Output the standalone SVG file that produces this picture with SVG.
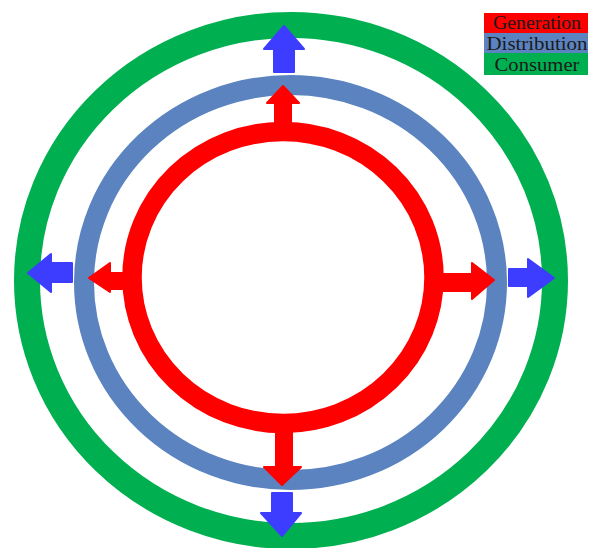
<svg xmlns="http://www.w3.org/2000/svg" width="590" height="548" viewBox="0 0 590 548">
<style>
.ring{fill:none}
.red{fill:#FF0000;stroke:#FF0000;stroke-width:2;stroke-linejoin:round}
.blu{fill:#3D3DFF;stroke:#3D3DFF;stroke-width:2;stroke-linejoin:round}
.lbl{font-family:"Liberation Serif","Times New Roman",serif;font-size:19px;fill:#1a1a1a;text-anchor:middle}
</style>
<rect width="590" height="548" fill="#ffffff"/>
<g id="consumer-ring"><ellipse class="ring" cx="291" cy="280.5" rx="264" ry="255.5" stroke="#00B050" stroke-width="26"/></g>
<g id="distribution-ring"><ellipse class="ring" cx="290.5" cy="282.5" rx="206.5" ry="197.5" stroke="#5A83C0" stroke-width="20"/></g>
<g id="generation-ring"><ellipse class="ring" cx="283" cy="277.5" rx="151" ry="146" stroke="#FF0000" stroke-width="19.5"/></g>
<g id="connectors">
<polygon class="red" points="275,124 275,103 267,103 283,86 299,103 291,103 291,124"/>
<polygon class="blu" points="274,72 274,49 264,49 284,26 304,49 294,49 294,72"/>
<polygon class="red" points="276,425 276,467 264,467 282,485 301,467 292,467 292,425"/>
<polygon class="blu" points="272,493 272,513 261,513 282,536 301,513 292,513 292,493"/>
<polygon class="blu" points="72,263 51,263 51,254 28,273 51,292 51,282 72,282"/>
<polygon class="red" points="130,273 110,273 110,263 89,278 110,292 110,289 130,289"/>
<polygon class="red" points="436,274 472,274 472,263 494,280 472,299 472,291 436,291"/>
<polygon class="blu" points="509,269 528,269 528,259 554,278 528,297 528,286 509,286"/>
</g>
<g id="legend">
<rect x="484" y="13" width="104" height="20" fill="#FF0000"/>
<rect x="484" y="33" width="104" height="20" fill="#5A83C0"/>
<rect x="484" y="53" width="104" height="22" fill="#00B050"/>
<text class="lbl" x="537" y="29" textLength="88" lengthAdjust="spacingAndGlyphs">Generation</text>
<text class="lbl" x="537" y="50" textLength="101" lengthAdjust="spacingAndGlyphs">Distribution</text>
<text class="lbl" x="537" y="71" textLength="85" lengthAdjust="spacingAndGlyphs">Consumer</text>
</g>
</svg>
